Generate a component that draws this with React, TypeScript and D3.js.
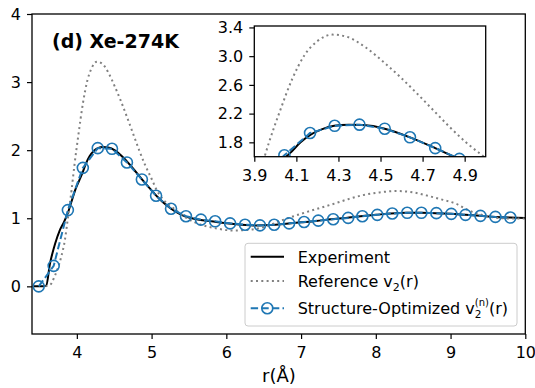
import * as d3 from "d3";
import { useEffect, useRef } from "react";

// experiment g(r)
const expR = [3.42, 3.55, 3.59, 3.64, 3.71, 3.77, 3.83, 3.88, 3.93, 3.98, 4.03, 4.07, 4.12, 4.17, 4.22, 4.28, 4.35, 4.42, 4.52, 4.64, 4.76, 4.88, 5.0, 5.1, 5.2, 5.3, 5.4, 5.5, 5.6, 5.8, 6.0, 6.2, 6.4, 6.6, 6.8, 7.0, 7.2, 7.4, 7.6, 7.8, 8.0, 8.2, 8.4, 8.6, 8.8, 9.0, 9.2, 9.4, 9.6, 9.8, 10.0];
const expG = [0, 0, 0.01, 0.33, 0.63, 0.82, 0.95, 1.08, 1.25, 1.42, 1.55, 1.65, 1.8, 1.91, 1.98, 2.03, 2.045, 2.04, 1.99, 1.87, 1.72, 1.56, 1.41, 1.29, 1.19, 1.11, 1.05, 1.01, 0.985, 0.955, 0.925, 0.905, 0.895, 0.9, 0.92, 0.94, 0.96, 0.985, 1.005, 1.03, 1.05, 1.07, 1.08, 1.08, 1.075, 1.065, 1.05, 1.035, 1.02, 1.01, 1.005];

// reference v2(r)
const refR = [3.58, 3.65, 3.7, 3.75, 3.79, 3.84, 3.88, 3.93, 3.97, 4.02, 4.08, 4.14, 4.2, 4.27, 4.34, 4.43, 4.51, 4.59, 4.67, 4.75, 4.83, 4.91, 5.0, 5.07, 5.16, 5.29, 5.47, 5.65, 5.87, 6.1, 6.3, 6.5, 6.72, 6.9, 7.07, 7.25, 7.43, 7.63, 7.83, 8.05, 8.28, 8.5, 8.73, 8.9, 9.08, 9.2, 9.3, 9.42, 9.53, 9.7, 9.84, 10.0];
const refG = [0, 0.03, 0.14, 0.28, 0.43, 0.68, 1.0, 1.42, 1.8, 2.22, 2.68, 3.02, 3.21, 3.3, 3.27, 3.12, 2.93, 2.72, 2.49, 2.25, 2.01, 1.79, 1.58, 1.41, 1.27, 1.15, 1.0, 0.91, 0.85, 0.82, 0.83, 0.87, 0.96, 1.03, 1.09, 1.15, 1.21, 1.28, 1.34, 1.38, 1.4, 1.38, 1.32, 1.27, 1.21, 1.14, 1.09, 1.05, 1.02, 1.0, 0.995, 0.995];

// structure-optimized v2(n)(r), main panel markers
const optR = [3.49, 3.69, 3.88, 4.08, 4.28, 4.47, 4.67, 4.87, 5.06, 5.26, 5.46, 5.66, 5.85, 6.05, 6.25, 6.45, 6.64, 6.84, 7.04, 7.23, 7.43, 7.63, 7.82, 8.02, 8.22, 8.42, 8.61, 8.81, 9.01, 9.2, 9.4, 9.6, 9.8];
const optG = [0, 0.3, 1.12, 1.74, 2.03, 2.02, 1.82, 1.57, 1.33, 1.14, 1.03, 0.98, 0.955, 0.925, 0.905, 0.895, 0.905, 0.925, 0.945, 0.965, 0.985, 1.005, 1.03, 1.05, 1.07, 1.08, 1.08, 1.075, 1.065, 1.05, 1.035, 1.02, 1.01];

// inset markers (denser)
const insR = [3.92, 4.043, 4.165, 4.282, 4.4, 4.52, 4.64, 4.76, 4.875, 4.99];
const insG = [1.28, 1.62, 1.93, 2.03, 2.046, 1.99, 1.87, 1.72, 1.57, 1.42];

const xTicks = [4, 5, 6, 7, 8, 9, 10];
const yTicks = [0, 1, 2, 3, 4];
const insXTicks = [3.9, 4.1, 4.3, 4.5, 4.7, 4.9];
const insYTicks = [1.8, 2.2, 2.6, 3.0, 3.4];

const BLUE = "#1f77b4";
const FONT = "DejaVu Sans, sans-serif";

type Pt = [number, number];
const zip = (a: number[], b: number[]): Pt[] => a.map((v, i) => [v, b[i]]);

const App = () => {
    const svgRef = useRef(null);

    useEffect(() => {
        const svg = d3.select(svgRef.current);
        svg.selectAll("*").remove();

        const W = 535, H = 388;
        svg.attr("width", W).attr("height", H).attr("viewBox", [0, 0, W, H]);

        const x = d3.scaleLinear().domain([3.4, 10]).range([32, 525.3]);
        const y = d3.scaleLinear().domain([-0.7, 4]).range([334, 14]);

        const defs = svg.append("defs");
        defs.append("clipPath").attr("id", "mainClip").append("rect")
            .attr("x", 32).attr("y", 14).attr("width", 525.3 - 32).attr("height", 334 - 14);

        const drawPanel = (g: any, xs: any, ys: any, clipId: string, mR: number[], mG: number[]) => {
            const lineSmooth = d3.line<Pt>().x(d => xs(d[0])).y(d => ys(d[1])).curve(d3.curveMonotoneX);
            const lineLin = d3.line<Pt>().x(d => xs(d[0])).y(d => ys(d[1]));
            const c = g.append("g").attr("clip-path", `url(#${clipId})`);
            c.append("path").datum(zip(expR, expG))
                .attr("fill", "none").attr("stroke", "#000").attr("stroke-width", 2).attr("d", lineSmooth);
            c.append("path").datum(zip(refR, refG))
                .attr("fill", "none").attr("stroke", "#808080").attr("stroke-width", 2)
                .attr("stroke-dasharray", "2,3.3").attr("d", lineSmooth);
            c.append("path").datum(zip(mR, mG))
                .attr("fill", "none").attr("stroke", BLUE).attr("stroke-width", 2)
                .attr("stroke-dasharray", "7.4,3.2").attr("d", lineLin);
            c.append("g").selectAll("circle").data(zip(mR, mG)).join("circle")
                .attr("cx", (d: Pt) => xs(d[0])).attr("cy", (d: Pt) => ys(d[1])).attr("r", 5.5)
                .attr("fill", "none").attr("stroke", BLUE).attr("stroke-width", 1.6);
        };

        const styleAxis = (g: any) => {
            g.select(".domain").remove();
            g.selectAll(".tick line").attr("stroke", "#000").attr("stroke-width", 1.2);
            g.selectAll(".tick text").attr("font-size", 16).attr("font-family", FONT).attr("fill", "#000");
        };

        // main panel
        drawPanel(svg, x, y, "mainClip", optR, optG);

        svg.append("g").attr("transform", "translate(0,334)")
            .call(d3.axisBottom(x).tickValues(xTicks).tickSize(5).tickPadding(8).tickFormat(d3.format("d")))
            .call(styleAxis);
        svg.append("g").attr("transform", "translate(32,0)")
            .call(d3.axisLeft(y).tickValues(yTicks).tickSize(5).tickPadding(6).tickFormat(d3.format("d")))
            .call(styleAxis);
        svg.append("rect").attr("x", 32).attr("y", 14).attr("width", 525.3 - 32).attr("height", 320)
            .attr("fill", "none").attr("stroke", "#000").attr("stroke-width", 1.3);

        svg.append("text").attr("x", 52).attr("y", 48).attr("font-family", FONT)
            .attr("font-weight", "bold").attr("font-size", 19).text("(d) Xe-274K");

        svg.append("text").attr("x", 279).attr("y", 382).attr("text-anchor", "middle")
            .attr("font-family", FONT).attr("font-size", 18).text("r(Å)");

        // inset
        const xi = d3.scaleLinear().domain([3.9, 5.0]).range([254.3, 485.7]);
        const yi = d3.scaleLinear().domain([1.6, 3.42]).range([156.7, 26]);
        defs.append("clipPath").attr("id", "insClip").append("rect")
            .attr("x", 254.3).attr("y", 26).attr("width", 485.7 - 254.3).attr("height", 156.7 - 26);
        const ins = svg.append("g");
        ins.append("rect").attr("x", 254.3).attr("y", 26).attr("width", 485.7 - 254.3).attr("height", 156.7 - 26)
            .attr("fill", "#fff");
        drawPanel(ins, xi, yi, "insClip", insR, insG);
        ins.append("g").attr("transform", "translate(0,156.7)")
            .call(d3.axisBottom(xi).tickValues(insXTicks).tickSize(5).tickPadding(8).tickFormat(d3.format(".1f")))
            .call(styleAxis);
        ins.append("g").attr("transform", "translate(254.3,0)")
            .call(d3.axisLeft(yi).tickValues(insYTicks).tickSize(5).tickPadding(6).tickFormat(d3.format(".1f")))
            .call(styleAxis);
        ins.append("rect").attr("x", 254.3).attr("y", 26).attr("width", 485.7 - 254.3).attr("height", 156.7 - 26)
            .attr("fill", "none").attr("stroke", "#000").attr("stroke-width", 1.3);

        // legend
        const lg = svg.append("g");
        lg.append("rect").attr("x", 245).attr("y", 243.3).attr("width", 272).attr("height", 82.7)
            .attr("rx", 3).attr("fill", "#fff").attr("fill-opacity", 0.8)
            .attr("stroke", "#cccccc").attr("stroke-width", 1);
        const rows = [256.7, 281, 308.3];
        lg.append("line").attr("x1", 250.7).attr("x2", 284).attr("y1", rows[0]).attr("y2", rows[0])
            .attr("stroke", "#000").attr("stroke-width", 2);
        lg.append("line").attr("x1", 250.7).attr("x2", 284).attr("y1", rows[1]).attr("y2", rows[1])
            .attr("stroke", "#808080").attr("stroke-width", 2).attr("stroke-dasharray", "2,3.3");
        lg.append("line").attr("x1", 250.7).attr("x2", 284).attr("y1", rows[2]).attr("y2", rows[2])
            .attr("stroke", BLUE).attr("stroke-width", 2).attr("stroke-dasharray", "7.4,3.2");
        lg.append("circle").attr("cx", 267.3).attr("cy", rows[2]).attr("r", 5.5)
            .attr("fill", "none").attr("stroke", BLUE).attr("stroke-width", 1.6);

        const t0 = lg.append("text").attr("x", 297.7).attr("y", rows[0] + 6)
            .attr("font-family", FONT).attr("font-size", 16);
        t0.text("Experiment");
        const t1 = lg.append("text").attr("x", 297.7).attr("y", rows[1] + 6)
            .attr("font-family", FONT).attr("font-size", 16);
        t1.append("tspan").text("Reference v");
        t1.append("tspan").attr("font-size", 11).attr("dy", 4).text("2");
        t1.append("tspan").attr("dy", -4).text("(r)");
        // stacked sub/superscript: v_2^(n)
        const t2 = lg.append("text").attr("x", 297.7).attr("y", rows[2] + 6)
            .attr("font-family", FONT).attr("font-size", 16);
        t2.append("tspan").text("Structure-Optimized v");
        t2.append("tspan").attr("font-size", 10.5).attr("dy", 4).text("2");
        t2.append("tspan").attr("font-size", 10).attr("dx", -6.7).attr("dy", -12.5).text("(n)");
        t2.append("tspan").attr("dy", 8.5).text("(r)");
    }, []);

    return (
        <svg ref={svgRef} style={{ position: "absolute", left: 0, top: 0, background: "#fff" }}></svg>
    );
};

export default App;
